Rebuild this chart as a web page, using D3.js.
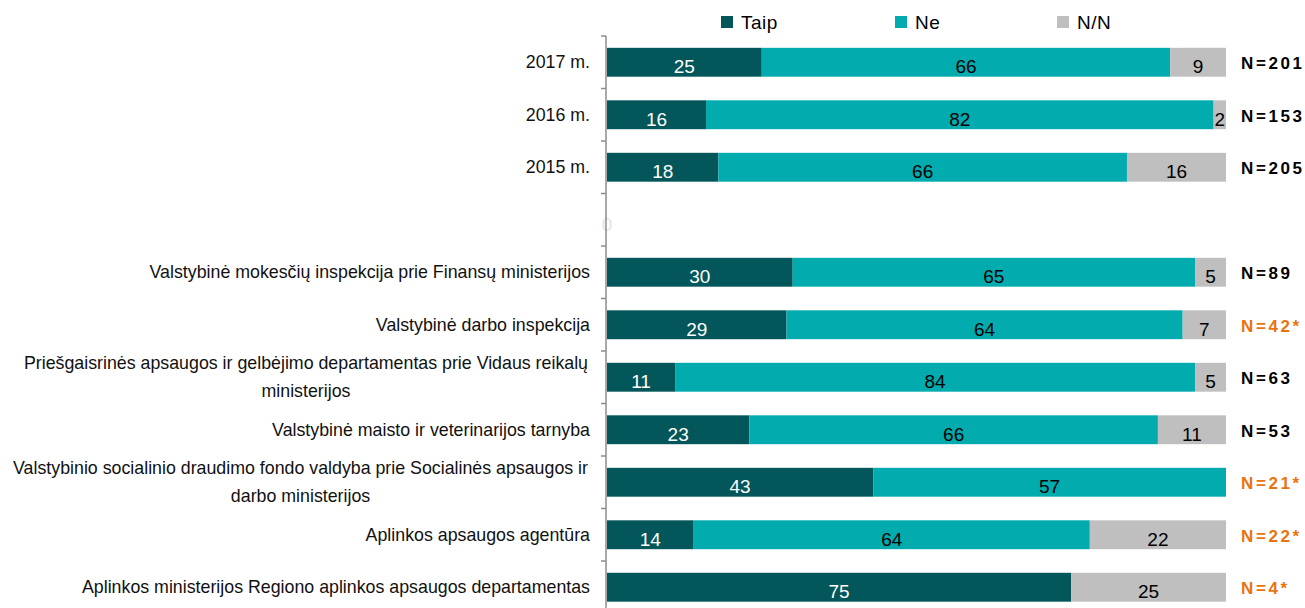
<!DOCTYPE html>
<html lang="lt">
<head>
<meta charset="UTF-8">
<title>Taip / Ne / N/N</title>
<script src="https://cdn.jsdelivr.net/npm/d3@7"></script>
<style>
body { margin: 0; background: #fff; }
svg { display: block; font-family: "Liberation Sans", Arial, sans-serif; }
</style>
</head>
<body>
<div id="chart"></div>
<script>

// rows from top to bottom, empty row is the spacer
const categories = [
	["2017 m."],
	["2016 m."],
	["2015 m."],
	[""],
	["Valstybinė mokesčių inspekcija prie Finansų ministerijos"],
	["Valstybinė darbo inspekcija"],
	["Priešgaisrinės apsaugos ir gelbėjimo departamentas prie Vidaus reikalų", "ministerijos"],
	["Valstybinė maisto ir veterinarijos tarnyba"],
	["Valstybinio socialinio draudimo fondo valdyba prie Socialinės apsaugos ir", "darbo ministerijos"],
	["Aplinkos apsaugos agentūra"],
	["Aplinkos ministerijos Regiono aplinkos apsaugos departamentas"]
];
const taip = [25, 16, 18, 0, 30, 29, 11, 23, 43, 14, 75];
const ne   = [66, 82, 66, 0, 65, 64, 84, 66, 57, 64, 0];
const nn   = [9, 2, 16, 0, 5, 7, 5, 11, 0, 22, 25];
const nLabels = ["N=201", "N=153", "N=205", "", "N=89", "N=42*", "N=63", "N=53", "N=21*", "N=22*", "N=4*"];
const seriesNames = ["Taip", "Ne", "N/N"];

const colors = ["#03565a", "#02abae", "#bfbfbf"];
const labelColors = ["#fff", "#000", "#000"];
const orange = "#e9730f";

const width = 1305, height = 608;
const svg = d3.select("#chart").append("svg")
	.attr("width", width)
	.attr("height", height);

const rowIds = categories.map((d, i) => i);
const y = d3.scaleBand().domain(rowIds).range([36, 613.5]).paddingInner(0.45).paddingOuter(0.225);
const x = d3.scaleLinear().domain([0, 100]).range([607, 1226]);

const rows = rowIds.map(i => ({ i, vals: [taip[i], ne[i], nn[i]] }));
const stack = d3.stack().keys([0, 1, 2]).value((d, k) => d.vals[k]);
const layers = stack(rows);

// bars
layers.forEach((layer, k) => {
	svg.append("g")
		.selectAll("rect")
		.data(layer.filter(d => d[1] > d[0]))
		.join("rect")
		.attr("x", d => x(d[0]))
		.attr("y", d => y(d.data.i))
		.attr("width", d => x(d[1]) - x(d[0]))
		.attr("height", y.bandwidth())
		.attr("fill", colors[k]);
});

// value labels
layers.forEach((layer, k) => {
	svg.append("g")
		.selectAll("text")
		.data(layer.filter(d => d[1] > d[0]))
		.join("text")
		.attr("x", d => (d[1] - d[0]) < 4 ? x(d[1]) - 1 : x((d[0] + d[1]) / 2))
		.attr("y", d => y(d.data.i) + y.bandwidth() / 2 + 11)
		.attr("text-anchor", d => (d[1] - d[0]) < 4 ? "end" : "middle")
		.attr("font-size", 19)
		.attr("fill", labelColors[k])
		.text(d => d[1] - d[0]);
});

// faint zero on the spacer row
svg.append("text")
	.attr("x", x(0))
	.attr("y", y(3) + y.bandwidth() / 2 + 11)
	.attr("text-anchor", "middle")
	.attr("font-size", 19)
	.attr("fill", "#e4e4e4")
	.text("0");

// axis line with ticks on band borders
const axisX = 606;
svg.append("line")
	.attr("x1", axisX).attr("x2", axisX)
	.attr("y1", 36).attr("y2", height)
	.attr("stroke", "#8c8c8c").attr("stroke-width", 1.5);
d3.range(categories.length + 1).forEach(i => {
	const ty = 36 + i * y.step();
	svg.append("line")
		.attr("x1", axisX - 5).attr("x2", axisX)
		.attr("y1", ty).attr("y2", ty)
		.attr("stroke", "#8c8c8c").attr("stroke-width", 1.5);
});

// category labels
const catSize = 17.8;
categories.forEach((lines, i) => {
	const cy = y(i) + y.bandwidth() / 2;
	if (lines.length === 1) {
		svg.append("text")
			.attr("x", 590)
			.attr("y", cy + 6)
			.attr("text-anchor", "end")
			.attr("font-size", catSize)
			.attr("fill", "#111")
			.text(lines[0]);
	} else {
		const first = svg.append("text")
			.attr("x", 588)
			.attr("y", cy - 8)
			.attr("text-anchor", "end")
			.attr("font-size", catSize)
			.attr("fill", "#111")
			.text(lines[0]);
		const w = first.node().getComputedTextLength();
		svg.append("text")
			.attr("x", 588 - w / 2)
			.attr("y", cy + 20)
			.attr("text-anchor", "middle")
			.attr("font-size", catSize)
			.attr("fill", "#111")
			.text(lines[1]);
	}
});

// N labels
svg.append("g")
	.selectAll("text")
	.data(nLabels.map((t, i) => ({ t, i })).filter(d => d.t))
	.join("text")
	.attr("x", 1241)
	.attr("y", d => y(d.i) + y.bandwidth() / 2 + 7)
	.attr("font-size", 17)
	.attr("font-weight", "bold")
	.attr("letter-spacing", 2.6)
	.attr("fill", d => d.t.endsWith("*") ? orange : "#000")
	.text(d => d.t);

// legend
const legendX = [721, 895, 1057];
const legend = svg.append("g")
	.selectAll("g")
	.data(seriesNames)
	.join("g")
	.attr("transform", (d, k) => `translate(${legendX[k]},16)`);
legend.append("rect")
	.attr("width", 12).attr("height", 12)
	.attr("fill", (d, k) => colors[k]);
legend.append("text")
	.attr("x", 20)
	.attr("y", 13)
	.attr("font-size", 19)
	.attr("letter-spacing", 0.5)
	.attr("fill", "#000")
	.text(d => d);

</script>
</body>
</html>
